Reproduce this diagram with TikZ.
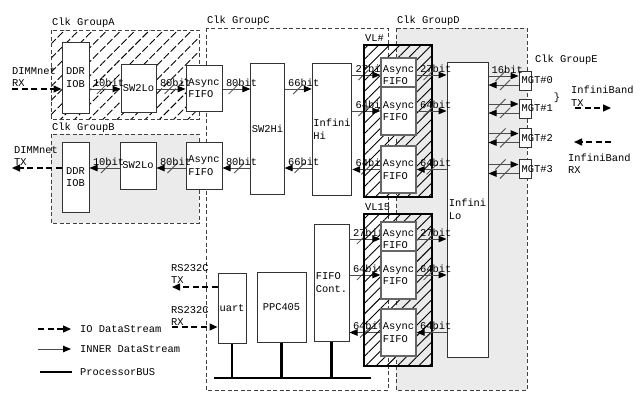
\documentclass[tikz,border=0pt]{standalone}
\usepackage{fontspec}
\setmainfont{Liberation Serif}
\newfontfamily\monofam{Liberation Mono}
\newcommand{\dgfont}{\monofam\fontsize{10.4pt}{12.5pt}\selectfont}
\usetikzlibrary{arrows.meta,patterns.meta,backgrounds}

\begin{document}
\begin{tikzpicture}[
    x=1pt,y=-1pt,
    font=\dgfont,
    blk/.style={draw=black!80,fill=white,line width=1pt,inner sep=1pt,align=left},
    vfifo/.style={blk,draw=black!60,line width=1.3pt,minimum width=35},
    grp/.style={draw=black!75,line width=0.9pt,dash pattern=on 4pt off 2.5pt},
    hatchA/.style={pattern={Lines[angle=45,distance=10pt,line width=0.9pt]},pattern color=black},
    vl/.style={draw=black,line width=2pt,pattern={Lines[angle=45,distance=7.5pt,line width=0.9pt]},pattern color=black},
    inner/.style={draw=black!70,line width=1pt,-{Triangle[length=8pt,width=6.5pt,color=black]}},
    io/.style={draw=black,line width=1.4pt,dash pattern=on 6pt off 3.5pt,-{Triangle[length=8pt,width=7pt]}},
    busln/.style={draw=black,line width=2.6pt},
    lab/.style={inner sep=1pt,align=left},
    bitlab/.style={inner sep=1pt,anchor=south west,xshift=2pt,yshift=1pt},
    pics/bitcut/.style={code={\draw[black!70,line width=0.8pt,solid,-] (-5,5) -- (5,-5);}}
]
\useasboundingbox (0,0) rectangle (642,392);

% clock groups
\draw[grp,fill=black!8] (396,28) rectangle (527,390);
\draw[grp] (206,28) rectangle (388,390);
\draw[grp,fill=black!8] (51,134) rectangle (199,223);
\draw[grp,hatchA] (51,30) rectangle (199,119);
\node[lab,anchor=west] (tA) at (51,23) {Clk GroupA};
\node[lab,anchor=west] (tB) at (51,128) {Clk GroupB};
\node[lab,anchor=west] (tC) at (206,21) {Clk GroupC};
\node[lab,anchor=west] (tD) at (396,21) {Clk GroupD};
\node[lab,anchor=west] (tE) at (534,60) {Clk GroupE};

% virtual lanes
\draw[vl] (364,45) rectangle (432,197);
\draw[vl] (364,214) rectangle (432,366);
\node[lab,anchor=west] (tVLa) at (364,38) {VL\#};
\node[lab,anchor=west] (tVLb) at (364,207) {VL15};

% blocks
\node[blk,minimum width=27,minimum height=71] (ddrA) at (75.5,77.5) {DDR\\IOB};
\node[blk,minimum width=35,minimum height=48] (swA) at (138.5,88) {SW2Lo};
\node[blk,minimum width=36,minimum height=46] (fifoA) at (204,88) {Async\\FIFO};
\node[blk,minimum width=27,minimum height=70] (ddrB) at (75.5,177) {DDR\\IOB};
\node[blk,minimum width=36,minimum height=47] (swB) at (138,165.5) {SW2Lo};
\node[blk,minimum width=36,minimum height=47] (fifoB) at (204,165.5) {Async\\FIFO};
\node[blk,minimum width=31,minimum height=131] (swHi) at (267.5,128.5) {SW2Hi};
\node[blk,minimum width=36,minimum height=132] (infHi) at (332,129) {Infini\\Hi};
\node[vfifo,minimum height=34] (vAa) at (398.5,75) {Async\\FIFO};
\node[vfifo,minimum height=48] (vAb) at (398.5,111) {Async\\FIFO};
\node[vfifo,minimum height=47] (vAc) at (398.5,169.5) {Async\\FIFO};
\node[vfifo,minimum height=34] (vBa) at (398.5,239) {Async\\FIFO};
\node[vfifo,minimum height=48] (vBb) at (398.5,275) {Async\\FIFO};
\node[vfifo,minimum height=47] (vBc) at (398.5,332.5) {Async\\FIFO};
\node[blk,minimum width=41,minimum height=295] (infLo) at (467.5,209.5) {Infini\\Lo};
\foreach \i/\y in {0/80.5,1/108.5,2/138,3/169}
  \node[blk,minimum width=12,minimum height=19,inner sep=0,
        label={[lab,anchor=west,xshift=2pt]west:MGT\#\i}] (mgt\i) at (525,\y) {};
\node[blk,minimum width=35,minimum height=117] (fcont) at (331.5,282.5) {FIFO\\Cont.};
\node[blk,minimum width=28,minimum height=70] (uart) at (232,308) {uart};
\node[blk,minimum width=49,minimum height=70] (ppc) at (281.5,307) {PPC405};

% processor bus
\coordinate (busL) at (214,378);
\coordinate (busR) at (371,378);
\draw[busln] (busL) -- (busR);
\foreach \b in {uart,ppc,fcont}
  \draw[busln] (\b.south) -- (\b.south |- busL);

% DIMMnet side
\coordinate (rxIn) at (12,89);
\coordinate (txOut) at (12,168);
\node[lab,anchor=west] (dimmRX) at (11,77) {DIMMnet\\RX};
\node[lab,anchor=west] (dimmTX) at (13,156) {DIMMnet\\TX};
\draw[io] (rxIn) -- (ddrA.west |- rxIn);
\draw[io] (ddrB.west |- txOut) -- (txOut);

\draw[inner] (ddrA.east |- rxIn) node[bitlab] (bA1) {10bit} -- pic[pos=0.4]{bitcut} (swA.west |- rxIn);
\draw[inner] (swA.east |- rxIn) node[bitlab] (bA2) {80bit} -- pic[pos=0.45]{bitcut} (fifoA.west |- rxIn);
\draw[inner] (fifoB.west |- txOut) -- pic[pos=0.45]{bitcut} (swB.east |- txOut) node[bitlab] (bB2) {80bit};
\draw[inner] (swB.west |- txOut) -- pic[pos=0.45]{bitcut} (ddrB.east |- txOut) node[bitlab] (bB1) {10bit};

% switch / infini hi
\draw[inner] (fifoA.east |- rxIn) node[bitlab] (bC1) {80bit} -- pic[pos=0.4]{bitcut} (swHi.west |- rxIn);
\draw[inner] (swHi.east |- rxIn) node[bitlab] (bC2) {66bit} -- pic[pos=0.5]{bitcut} (infHi.west |- rxIn);
\draw[inner] (swHi.west |- txOut) -- pic[pos=0.4]{bitcut} (fifoB.east |- txOut) node[bitlab] (bC3) {80bit};
\draw[inner] (infHi.west |- txOut) -- pic[pos=0.45]{bitcut} (swHi.east |- txOut) node[bitlab] (bC4) {66bit};

% lane inputs (labels run under the fifo boxes)
\begin{scope}[on background layer]
\draw[inner] (infHi.east |- vAa.west) node[bitlab] (bV1) {27bit} -- pic[pos=0.4]{bitcut} (vAa.west);
\draw[inner] (infHi.east |- vAb.west) node[bitlab] (bV2) {64bit} -- pic[pos=0.4]{bitcut} (vAb.west);
\draw[inner] (vAc.west) -- pic[pos=0.5]{bitcut} (infHi.east |- vAc.west) node[bitlab] (bV3) {64bit};
\draw[inner] (fcont.east |- vBa.west) node[bitlab] (bW1) {27bit} -- pic[pos=0.4]{bitcut} (vBa.west);
\draw[inner] (fcont.east |- vBb.west) node[bitlab] (bW2) {64bit} -- pic[pos=0.4]{bitcut} (vBb.west);
\draw[inner] (vBc.west) -- pic[pos=0.5]{bitcut} (fcont.east |- vBc.west) node[bitlab] (bW3) {64bit};
\end{scope}

% lane outputs
\draw[inner] (vAa.east) node[bitlab] (bV4) {27bit} -- pic[pos=0.4]{bitcut} (infLo.west |- vAa.east);
\draw[inner] (vAb.east) node[bitlab] (bV5) {64bit} -- pic[pos=0.4]{bitcut} (infLo.west |- vAb.east);
\draw[inner] (infLo.west |- vAc.east) -- pic[pos=0.5]{bitcut} (vAc.east) node[bitlab] (bV6) {64bit};
\draw[inner] (vBa.east) node[bitlab] (bW4) {27bit} -- pic[pos=0.4]{bitcut} (infLo.west |- vBa.east);
\draw[inner] (vBb.east) node[bitlab] (bW5) {64bit} -- pic[pos=0.4]{bitcut} (infLo.west |- vBb.east);
\draw[inner] (infLo.west |- vBc.east) -- pic[pos=0.5]{bitcut} (vBc.east) node[bitlab] (bW6) {64bit};

% MGT links
\foreach \i in {0,...,3}{
  \coordinate (mIn\i) at ([yshift=4.5pt]mgt\i.west);
  \coordinate (mOut\i) at ([yshift=-4.5pt]mgt\i.west);
  \draw[inner] (infLo.east |- mIn\i) -- pic[pos=0.4]{bitcut} (mIn\i);
  \draw[inner] (mOut\i) -- pic[pos=0.45]{bitcut} (infLo.east |- mOut\i);
}
\node[bitlab] (bM) at (infLo.east |- mIn0) {16bit};

% InfiniBand side
\node[lab] (brace) at (557,98) {\}};
\node[lab,anchor=west] (ibTX) at (570,96) {InfiniBand\\TX};
\coordinate (ibTxA) at (575,108);
\coordinate (ibTxB) at (611,108);
\draw[io] (ibTxA) -- (ibTxB);
\node[lab,anchor=west] (ibRX) at (567,163.5) {InfiniBand\\RX};
\coordinate (ibRxA) at (611,142);
\coordinate (ibRxB) at (574,142);
\draw[io] (ibRxA) -- (ibRxB);

% RS232C
\node[lab,anchor=west] (rsTX) at (170,274) {RS232C\\TX};
\coordinate (rsTxOut) at (172,287);
\draw[io] (uart.west |- rsTxOut) -- (rsTxOut);
\node[lab,anchor=west] (rsRX) at (170,316) {RS232C\\RX};
\coordinate (rsRxIn) at (172,327);
\draw[io] (rsRxIn) -- (uart.west |- rsRxIn);

% legend
\coordinate (lgA1) at (38,329);
\coordinate (lgA2) at (71,329);
\draw[io] (lgA1) -- (lgA2);
\node[lab,anchor=west] (lgIO) at (79,329) {IO DataStream};
\coordinate (lgB1) at (38,349);
\coordinate (lgB2) at (71,349);
\draw[inner] (lgB1) -- (lgB2);
\node[lab,anchor=west] (lgIN) at (79,349) {INNER DataStream};
\coordinate (lgC1) at (40,372);
\coordinate (lgC2) at (72,372);
\draw[busln] (lgC1) -- (lgC2);
\node[lab,anchor=west] (lgPB) at (79,372) {ProcessorBUS};
\end{tikzpicture}
\end{document}
